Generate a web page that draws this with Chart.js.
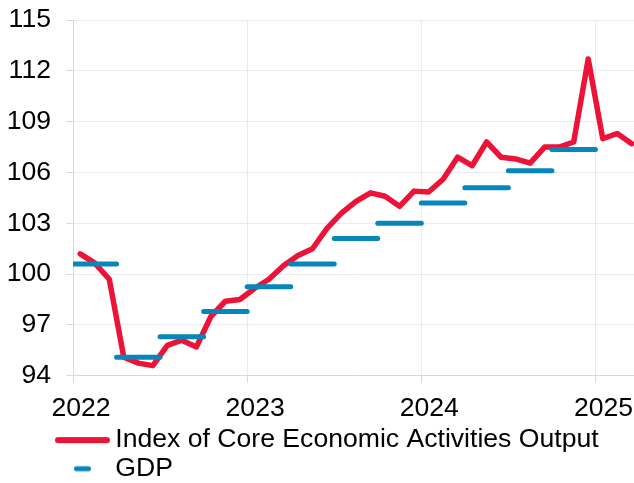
<!DOCTYPE html>
<html><head><meta charset="utf-8">
<script src="https://cdn.jsdelivr.net/npm/chart.js@4.4.1/dist/chart.umd.min.js"></script>
<style>html,body{margin:0;padding:0;overflow:hidden;background:#fff}canvas{display:block}</style>
</head><body>
<canvas id="c" width="639" height="492"></canvas>
<script>
// Categories / tick labels
const yearLabels = ['2022', '2023', '2024', '2025'];
const yearTickMonths = [0, 12, 24, 36];
const yTicks = [94, 97, 100, 103, 106, 109, 112, 115];
// Monthly series Jan 2022 - Mar 2025
const coreIndex = [
  101.2, 100.65, 99.7, 95.1, 94.75, 94.6, 95.8, 96.1, 95.7, 97.5, 98.4, 98.5,
  99.15, 99.7, 100.5, 101.1, 101.5, 102.7, 103.6, 104.3, 104.8, 104.6, 104.0, 104.9,
  104.85, 105.6, 106.9, 106.4, 107.8, 106.9, 106.8, 106.55, 107.5, 107.5, 107.8, 112.7,
  108.0, 108.3, 107.7
];
// Quarterly GDP Q1 2022 - Q4 2024
const gdpQuarterly = [100.6, 95.1, 96.3, 97.8, 99.25, 100.6, 102.1, 103.0, 104.2, 105.1, 106.1, 107.35];
const seriesNames = ['Index of Core Economic Activities Output', 'GDP'];

const RED = '#EC1238';
const BLUE = '#0786B9';
const FAMILY = "'Liberation Sans', Arial, sans-serif";
const FSIZE = 26.6;

const corePoints = coreIndex.map((v, i) => ({ x: i + 0.5, y: v }));
const gdpPoints = [];
gdpQuarterly.forEach((v, q) => {
  gdpPoints.push({ x: q * 3, y: v });
  gdpPoints.push({ x: q * 3 + 3, y: v });
  gdpPoints.push({ x: q * 3 + 3, y: null });
});

function makeIcon(color, x0, x1, lw) {
  const c = document.createElement('canvas');
  c.width = 116; c.height = 12;
  const g = c.getContext('2d');
  g.strokeStyle = color; g.lineWidth = lw; g.lineCap = 'round';
  g.beginPath(); g.moveTo(x0 + lw / 2, 6); g.lineTo(x1 - lw / 2, 6); g.stroke();
  return c;
}
const legendIcons = [makeIcon(RED, 61, 116, 6), makeIcon(BLUE, 80, 97, 5)];

new Chart(document.getElementById('c'), {
  type: 'line',
  data: {
    datasets: [
      { label: seriesNames[0], data: corePoints, borderColor: RED, backgroundColor: RED,
        borderWidth: 5.5, pointRadius: 0, tension: 0, borderJoinStyle: 'round', borderCapStyle: 'round', order: 1 },
      { label: seriesNames[1], data: gdpPoints, borderColor: BLUE, backgroundColor: BLUE,
        borderWidth: 5, pointRadius: 0, spanGaps: false, borderCapStyle: 'round', order: 0 }
    ]
  },
  options: {
    responsive: false, animation: false, devicePixelRatio: 1,
    layout: { padding: { top: 20, right: 0, left: 0, bottom: 0 } },
    plugins: {
      tooltip: { enabled: false },
      legend: {
        position: 'bottom', align: 'start',
        labels: {
          usePointStyle: true, pointStyleWidth: 100, padding: 2, color: '#000',
          font: { size: FSIZE, family: FAMILY },
          generateLabels: (chart) => {
            const items = Chart.defaults.plugins.legend.labels.generateLabels(chart);
            items.sort((a, b) => a.datasetIndex - b.datasetIndex);
            items.forEach(it => { it.pointStyle = legendIcons[it.datasetIndex]; it.lineWidth = 0; });
            return items;
          }
        }
      }
    },
    scales: {
      x: {
        type: 'linear', min: 0, max: 39,
        afterBuildTicks: s => { s.ticks = yearTickMonths.map(v => ({ value: v })); },
        afterFit: s => { s.height = 49; },
        ticks: { callback: v => yearLabels[yearTickMonths.indexOf(v)], color: '#000',
          font: { size: FSIZE, family: FAMILY }, padding: 10, labelOffset: 8, maxRotation: 0, autoSkip: false },
        grid: { color: '#ebebeb', tickColor: '#d9d9d9', tickLength: 7, lineWidth: 1 },
        border: { color: '#d9d9d9' }
      },
      y: {
        min: 94, max: 115,
        afterBuildTicks: s => { s.ticks = yTicks.map(v => ({ value: v })); },
        afterFit: s => { s.width = 73; s.paddingTop = 0; s.paddingBottom = 0; },
        ticks: { color: '#000', font: { size: FSIZE, family: FAMILY }, padding: 15 },
        grid: { color: '#ebebeb', tickColor: '#d9d9d9', tickLength: 7, lineWidth: 1 },
        border: { color: '#d9d9d9' }
      }
    }
  }
});
</script>
</body></html>
